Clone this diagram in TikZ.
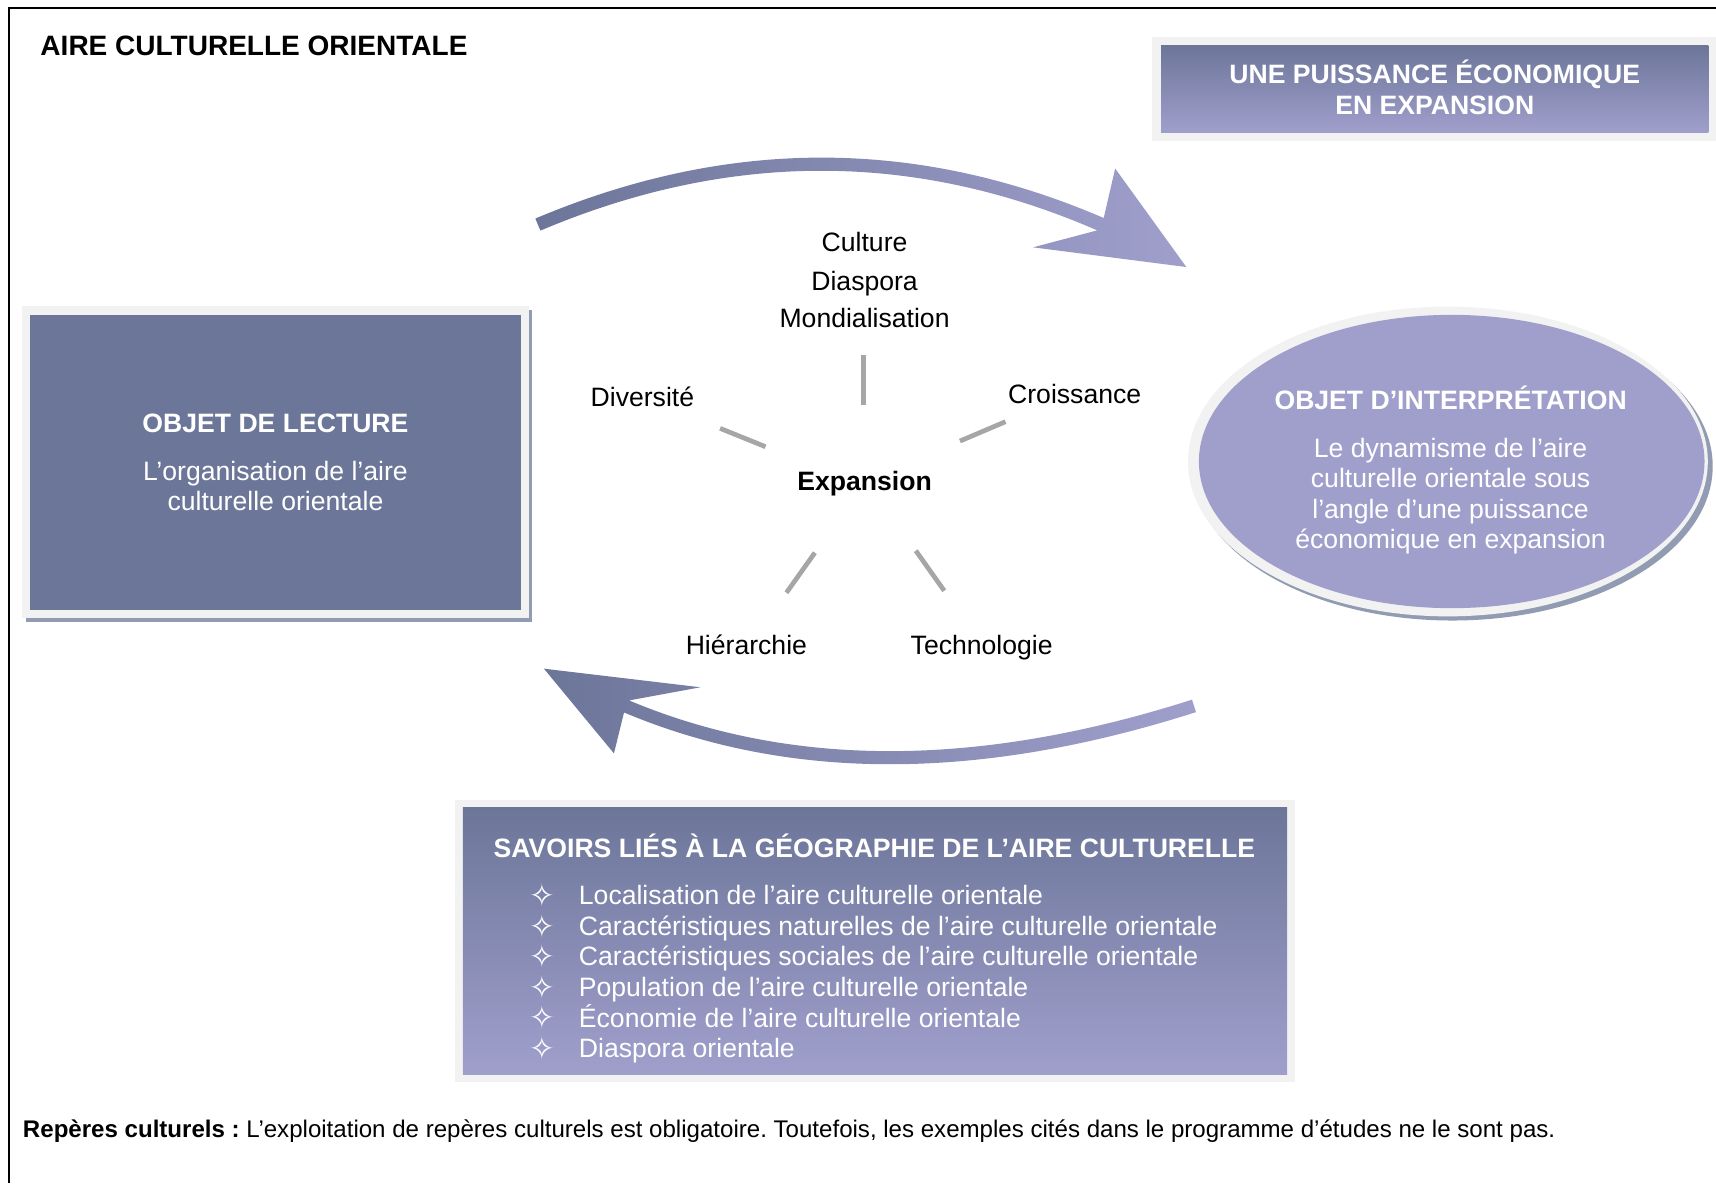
\documentclass[tikz,border=0pt]{standalone}
\usepackage{fontspec}
\setmainfont{Liberation Sans}
\newfontfamily\symfont{DejaVu Sans}
\usetikzlibrary{shapes.geometric}
\definecolor{boxdark}{RGB}{108,118,153}
\definecolor{boxlight}{RGB}{160,159,204}
\definecolor{rimgray}{RGB}{242,242,242}
\definecolor{shadowblue}{RGB}{145,156,178}
\definecolor{spokegray}{RGB}{166,166,166}
\frenchspacing
\begin{document}
\begin{tikzpicture}[x=1pt,y=-1pt,
  every node/.style={inner sep=0pt,outer sep=0pt},
  txt/.style={font=\fontsize{24.3}{28}\selectfont},
  btxt/.style={font=\fontsize{24.3}{28}\selectfont\bfseries},
  wtxt/.style={txt,text=white,anchor=base},
  wbtxt/.style={btxt,text=white,anchor=base},
  ktxt/.style={txt,text=black,anchor=base},
  spoke/.style={draw=spokegray,line width=4.3pt},
  gradbox/.style={shade,top color=boxdark,bottom color=boxlight,anchor=north west},
  arrowshade/.style={left color=boxdark,right color=boxlight},
  staritem/.style={font=\symfont\fontsize{28}{30}\selectfont,text=white,anchor=center},
  listitem/.style={txt,text=white,anchor=base west},
]
\useasboundingbox (0,0) rectangle (1568,1081);
\fill[white] (0,0) rectangle (1568,1081);
% frame
\draw[line width=1.8pt] (8,1081) -- (8,7.6) -- (1568,7.6);

% title
\node[font=\fontsize{25.6}{28}\selectfont\bfseries,anchor=base west] (title) at (37,50.6) {AIRE CULTURELLE ORIENTALE};

% top-right box
\fill[rimgray] (1053,33.5) rectangle (1568,128.5);
\node[gradbox,minimum width=500pt,minimum height=79.5pt] (econ) at (1061,41.7) {};
\node[wbtxt] (econA) at (1311,76.6) {UNE PUISSANCE ÉCONOMIQUE};
\node[wbtxt] (econB) at (1311,104.6) {EN EXPANSION};

% left box
\fill[shadowblue] (23.5,283) rectangle (486,568);
\fill[rimgray] (20.5,280) rectangle (483,565);
\node[fill=boxdark,anchor=north west,minimum width=448.1pt,minimum height=269pt] (lecture) at (27.7,288) {};
\node[wbtxt] (lectA) at (251.7,395.6) {OBJET DE LECTURE};
\node[wtxt] (lectB) at (251.7,438.6) {L’organisation de l’aire};
\node[wtxt] (lectC) at (251.7,466.6) {culturelle orientale};

% right ellipse
\fill[shadowblue] (1327,426) ellipse [x radius=238, y radius=141];
\fill[rimgray] (1323,421.7) ellipse [x radius=237.5, y radius=141.5];
\node[ellipse,fill=boxlight,minimum width=462pt,minimum height=268pt] (interp) at (1326.5,421.7) {};
\node[wbtxt] (interpA) at (1325.5,374.6) {OBJET D’INTERPRÉTATION};
\node[wtxt] (interpB) at (1325.5,417.6) {Le dynamisme de l’aire};
\node[wtxt] (interpC) at (1325.5,445.6) {culturelle orientale sous};
\node[wtxt] (interpD) at (1325.5,473.6) {l’angle d’une puissance};
\node[wtxt] (interpE) at (1325.5,501.6) {économique en expansion};

% curved arrows
\shade[arrowshade] (489.2,199.7) .. controls (664.4,125.6) and (837.1,125.5) .. (1008.5,199.2)
  -- (1019,154) -- (1084,244) -- (944,226) -- (1002.6,210.5)
  .. controls (835.5,137.8) and (665.9,137.9) .. (493.8,210.7) -- cycle;
\shade[arrowshade] (1089.2,639.3) .. controls (893.9,701.8) and (722.5,702) .. (574.8,640)
  -- (640,628) -- (497,611) -- (561,688.4) -- (570.2,651)
  .. controls (720.5,714.2) and (894.7,714.1) .. (1092.8,650.7) -- cycle;

% centre words
\node[ktxt] (culture) at (790,229.6) {Culture};
\node[ktxt] (diaspora) at (790,265.6) {Diaspora};
\node[ktxt] (mondial) at (790,299.6) {Mondialisation};
\node[ktxt] (divers) at (587,371.6) {Diversité};
\node[ktxt] (croiss) at (982,368.6) {Croissance};
\node[btxt,anchor=base] (expansion) at (790,448.6) {Expansion};
\node[ktxt] (hierar) at (682,597.6) {Hiérarchie};
\node[ktxt] (techno) at (897,597.6) {Technologie};

% spokes
\coordinate (s1a) at (789,324.4);   \coordinate (s1b) at (789,370.1);
\coordinate (s2a) at (658,391.4);   \coordinate (s2b) at (699.5,408.2);
\coordinate (s3a) at (877.2,403);   \coordinate (s3b) at (918.8,385.3);
\coordinate (s4a) at (718.6,541.6); \coordinate (s4b) at (744.6,505);
\coordinate (s5a) at (836.8,503.2); \coordinate (s5b) at (862.8,539.8);
\draw[spoke] (s1a) -- (s1b);
\draw[spoke] (s2a) -- (s2b);
\draw[spoke] (s3a) -- (s3b);
\draw[spoke] (s4a) -- (s4b);
\draw[spoke] (s5a) -- (s5b);

% bottom box
\fill[rimgray] (416,731) rectangle (1183,989);
\node[gradbox,minimum width=753pt,minimum height=244pt] (savoirs) at (423,738) {};
\node[wbtxt] (savT) at (799,783.6) {SAVOIRS LIÉS À LA GÉOGRAPHIE DE L’AIRE CULTURELLE};
\foreach \i/\t in {0/{Localisation de l’aire culturelle orientale},
                   1/{Caractéristiques naturelles de l’aire culturelle orientale},
                   2/{Caractéristiques sociales de l’aire culturelle orientale},
                   3/{Population de l’aire culturelle orientale},
                   4/{Économie de l’aire culturelle orientale},
                   5/{Diaspora orientale}}{
  \node[staritem] (star\i) at (495.5,818+28*\i) {✧};
  \node[listitem] (item\i) at (529,826.6+28*\i) {\t};
}

% footer
\node[anchor=base west,font=\fontsize{22}{26}\selectfont] (foot) at (21,1039.8) {\textbf{Repères culturels :} L’exploitation de repères culturels est obligatoire. Toutefois, les exemples cités dans le programme d’études ne le sont pas.};
\end{tikzpicture}
\end{document}
